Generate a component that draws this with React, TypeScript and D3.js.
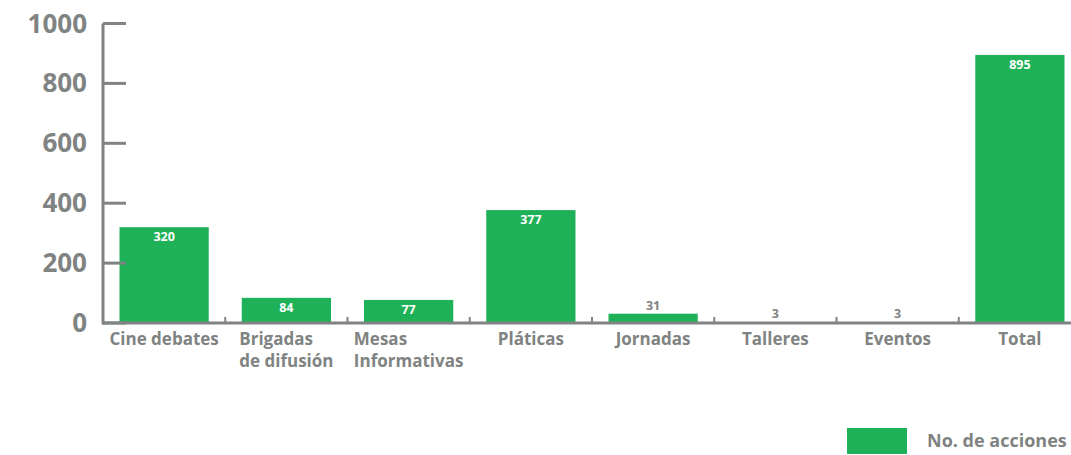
import React from "react";
import * as d3 from "d3";

const categories: string[][] = [
  ["Cine debates"],
  ["Brigadas", "de difusión"],
  ["Mesas", "Informativas"],
  ["Pláticas"],
  ["Jornadas"],
  ["Talleres"],
  ["Eventos"],
  ["Total"],
];
const values: number[] = [320, 84, 77, 377, 31, 3, 3, 895];
const yTicks: number[] = [0, 200, 400, 600, 800, 1000];
const seriesName = "No. de acciones";

const W = 1071;
const H = 455;
const GREEN = "#1fb157";
const GRAY = "#7f8382";
const FONT = "'Open Sans', sans-serif";
const LABEL_SIZE = 17;
const LEGEND_SIZE = 18;

let ctx: CanvasRenderingContext2D | null = null;
function measure(text: string, size: number): number {
  if (!ctx) ctx = document.createElement("canvas").getContext("2d");
  if (!ctx) return text.length * size * 0.55;
  ctx.font = `700 ${size}px ${FONT}`;
  return ctx.measureText(text).width;
}

export default function App() {
  const x = d3
    .scaleBand<number>()
    .domain(values.map((_, i) => i))
    .range([103, 1081])
    .paddingInner(0.27)
    .paddingOuter(0.135);
  const bandStep = x.step();
  const y = d3.scaleLinear().domain([0, 1000]).range([323, 23.5]);
  const x0 = 103;

  return (
    <svg
      width={W}
      height={H}
      style={{ position: "absolute", left: 0, top: 0, display: "block" }}
      fontFamily={FONT}
    >
      {values.map((v, i) => {
        const bx = x(i)!;
        const by = y(v);
        const bh = y(0) - by;
        const inside = bh > 15;
        return (
          <g key={i}>
            <rect x={bx} y={by} width={x.bandwidth()} height={bh} fill={GREEN} />
            <text
              x={bx + x.bandwidth() / 2}
              y={inside ? by + 14 : by - 4}
              textAnchor="middle"
              fontSize={12.5}
              fontWeight={700}
              fill={inside ? "#ffffff" : GRAY}
            >
              {v}
            </text>
          </g>
        );
      })}
      <line x1={x0} x2={x0} y1={y(1000)} y2={y(0) + 1.5} stroke={GRAY} strokeWidth={3} />
      {yTicks.map((t) => (
        <g key={t}>
          <line x1={x0} x2={126} y1={y(t)} y2={y(t)} stroke={GRAY} strokeWidth={3} />
          <text
            x={87}
            y={y(t) + 9}
            textAnchor="end"
            fontSize={26}
            fontWeight={700}
            fill={GRAY}
          >
            {t}
          </text>
        </g>
      ))}
      <line x1={x0} x2={W} y1={y(0)} y2={y(0)} stroke={GRAY} strokeWidth={3} />
      {values.map((_, i) =>
        i === 0 ? null : (
          <line
            key={i}
            x1={x0 + i * bandStep}
            x2={x0 + i * bandStep}
            y1={y(0)}
            y2={y(0) - 6}
            stroke={GRAY}
            strokeWidth={2}
          />
        )
      )}
      {categories.map((lines, i) => {
        const cx = x(i)! + x.bandwidth() / 2;
        const maxW = Math.max(...lines.map((l) => measure(l, LABEL_SIZE)));
        const left = cx - maxW / 2;
        return (
          <text key={i} y={345} fontSize={LABEL_SIZE} fontWeight={700} fill={GRAY}>
            {lines.map((l, j) => (
              <tspan key={j} x={left} dy={j === 0 ? 0 : 22}>
                {l}
              </tspan>
            ))}
          </text>
        );
      })}
      <rect x={847} y={428} width={60} height={26} fill={GREEN} />
      <text x={927} y={447} fontSize={LEGEND_SIZE} fontWeight={700} fill={GRAY}>
        {seriesName}
      </text>
    </svg>
  );
}
